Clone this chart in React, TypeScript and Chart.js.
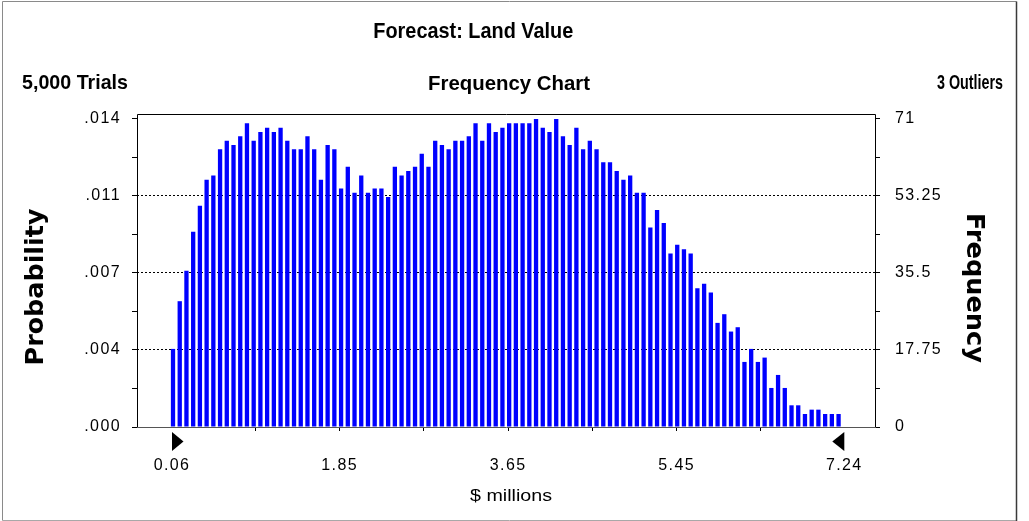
import { useEffect, useRef } from 'react';
import { Chart, registerables } from 'chart.js';

Chart.register(...registerables);

// ---- data ----
const frequencies = [
  18, 29, 36, 45, 51, 57, 58, 64, 66, 65,
  67, 70, 66, 68, 69, 68, 69, 66, 64, 64,
  67, 64, 57, 65, 64, 55, 60, 54, 58, 54,
  55, 55, 53, 60, 58, 59, 60, 63, 60, 66,
  65, 64, 66, 66, 67, 70, 66, 70, 68, 69,
  70, 70, 70, 70, 71, 69, 68, 71, 67, 65,
  69, 64, 66, 64, 61, 61, 59, 57, 58, 54,
  54, 46, 50, 47, 40, 42, 41, 40, 32, 33,
  31, 24, 26, 22, 23, 15, 18, 15, 16, 9,
  12, 9, 5, 5, 3, 4, 4, 3, 3, 3,
];
const rangeMin = 0.06;
const rangeMax = 7.24;
const xMajorTicks = [0.06, 1.85, 3.65, 5.45, 7.24];
const xMajorLabels = ['0.06', '1.85', '3.65', '5.45', '7.24'];
const xMinorTicks = [0.95, 2.75, 4.55, 6.35];
const freqMajorTicks = [0, 17.75, 35.5, 53.25, 71];
const freqLabels = ['0', '17.75', '35.5', '53.25', '71'];
const probLabels = ['.000', '.004', '.007', '.011', '.014'];
const freqMinorTicks = [8.875, 26.625, 44.375, 62.125];
const gridValues = [17.75, 35.5, 53.25];
const titleText = 'Forecast: Land Value';
const trialsText = '5,000 Trials';
const chartKindText = 'Frequency Chart';
const outliersText = '3 Outliers';
const xTitle = '$ millions';
const leftTitle = 'Probability';
const rightTitle = 'Frequency';

const binWidth = (rangeMax - rangeMin) / frequencies.length;
const barPoints = frequencies.map((f, i) => ({ x: rangeMin + (i + 0.15) * binWidth, y: f }));

const TICK_FONT = { family: "'Liberation Sans', Arial, sans-serif", size: 16 };

function drawFitted(
  ctx: CanvasRenderingContext2D,
  text: string,
  cx: number,
  cy: number,
  targetW: number,
  font: string,
  rotation = 0,
  baseline: CanvasTextBaseline = 'alphabetic'
) {
  ctx.save();
  ctx.font = font;
  (ctx as any).letterSpacing = '0px';
  const w = ctx.measureText(text).width;
  ctx.translate(cx, cy);
  ctx.rotate(rotation);
  ctx.scale(targetW / w, 1);
  ctx.textAlign = 'center';
  ctx.textBaseline = baseline;
  ctx.fillStyle = '#000';
  ctx.fillText(text, 0, 0);
  ctx.restore();
}

const decorPlugin = {
  id: 'decor',
  beforeDraw(chart: any) {
    (chart.ctx as any).letterSpacing = '1.4px';
  },
  afterDraw(chart: any) {
    const ctx: CanvasRenderingContext2D = chart.ctx;
    (ctx as any).letterSpacing = '0px';
    const { left, right, top, bottom } = chart.chartArea;
    ctx.save();
    // plot frame
    ctx.lineWidth = 1;
    ctx.strokeStyle = '#000';
    ctx.beginPath();
    ctx.moveTo(left + 0.5, bottom);
    ctx.lineTo(left + 0.5, top + 0.5);
    ctx.lineTo(right + 0.5, top + 0.5);
    ctx.lineTo(right + 0.5, bottom);
    ctx.stroke();
    ctx.strokeStyle = '#555';
    ctx.beginPath();
    ctx.moveTo(left, bottom + 0.5);
    ctx.lineTo(right + 1, bottom + 0.5);
    ctx.stroke();

    // outer border
    ctx.strokeStyle = '#8a8a8a';
    ctx.beginPath();
    ctx.moveTo(2.5, 520.5);
    ctx.lineTo(2.5, 1.5);
    ctx.lineTo(1016.5, 1.5);
    ctx.stroke();
    ctx.strokeStyle = '#a8a8a8';
    ctx.beginPath();
    ctx.moveTo(2.5, 520.5);
    ctx.lineTo(1016.5, 520.5);
    ctx.stroke();
    ctx.strokeStyle = '#3a3a3a';
    ctx.lineWidth = 1.5;
    ctx.beginPath();
    ctx.moveTo(1016.5, 1.5);
    ctx.lineTo(1016.5, 521);
    ctx.stroke();

    // range markers
    const xs = chart.scales.x;
    const pL = xs.getPixelForValue(rangeMin);
    const pR = xs.getPixelForValue(rangeMax);
    ctx.fillStyle = '#000';
    ctx.beginPath();
    ctx.moveTo(pL, 432);
    ctx.lineTo(pL, 451);
    ctx.lineTo(pL + 11.5, 441.5);
    ctx.closePath();
    ctx.fill();
    ctx.beginPath();
    ctx.moveTo(pR, 432);
    ctx.lineTo(pR, 451);
    ctx.lineTo(pR - 12, 441.5);
    ctx.closePath();
    ctx.fill();
    ctx.restore();

    const bold21 = "bold 21px 'Liberation Sans', Arial, sans-serif";
    drawFitted(ctx, titleText, 473.3, 38, 200, "bold 22px 'Liberation Sans', Arial, sans-serif");
    drawFitted(ctx, trialsText, 75, 89, 106, bold21);
    drawFitted(ctx, chartKindText, 509, 89.5, 162, bold21);
    drawFitted(ctx, outliersText, 970, 89, 66, bold21);
    drawFitted(ctx, xTitle, 511, 497, 82, "16px 'Liberation Sans', Arial, sans-serif", 0, 'middle');
    drawFitted(ctx, leftTitle, 37, 287, 157, "bold 24px 'DejaVu Sans', sans-serif", -Math.PI / 2, 'middle');
    drawFitted(ctx, rightTitle, 973, 288, 150, "bold 24px 'DejaVu Sans', sans-serif", Math.PI / 2, 'middle');
  },
};

const allFreqTicks = [...freqMajorTicks, ...freqMinorTicks].sort((a, b) => a - b);
const allXTicks = [...xMajorTicks, ...xMinorTicks].sort((a, b) => a - b);

export default function App() {
  const ref = useRef<HTMLCanvasElement>(null);
  useEffect(() => {
    document.body.style.margin = '0';
    const chart = new Chart(ref.current!, {
      type: 'bar',
      data: {
        datasets: [
          {
            data: barPoints as any,
            backgroundColor: '#0000ff',
            borderWidth: 0,
            barPercentage: 0.64,
            categoryPercentage: 1,
            xAxisID: 'x',
            yAxisID: 'y',
          },
        ],
      },
      options: {
        responsive: false,
        animation: false,
        events: [],
        layout: { padding: { top: 114, bottom: 0, left: 0, right: 0 } },
        plugins: { legend: { display: false }, tooltip: { enabled: false }, title: { display: false } },
        scales: {
          x: {
            type: 'linear',
            position: 'bottom',
            min: -0.3138,
            max: 7.568,
            bounds: 'data',
            offset: false,
            afterBuildTicks: (s: any) => {
              s.ticks = allXTicks.map((v) => ({ value: v }));
            },
            afterFit: (s: any) => {
              s.height = 94;
            },
            ticks: {
              autoSkip: false,
              maxRotation: 0,
              padding: 25,
              color: '#000',
              font: TICK_FONT,
              callback: (v: any) => {
                const i = xMajorTicks.indexOf(v);
                return i >= 0 ? xMajorLabels[i] : '';
              },
            },
            grid: {
              offset: false,
              drawOnChartArea: false,
              tickLength: 4,
              tickColor: (c: any) =>
                c.tick && (c.tick.value === rangeMin || c.tick.value === rangeMax) ? 'rgba(0,0,0,0)' : '#000',
            },
            border: { display: false },
          },
          y: {
            type: 'linear',
            position: 'right',
            min: 0,
            max: 72.15,
            bounds: 'data',
            z: 1,
            afterBuildTicks: (s: any) => {
              s.ticks = allFreqTicks.map((v) => ({ value: v }));
            },
            afterFit: (s: any) => {
              s.width = 154;
            },
            ticks: {
              autoSkip: false,
              padding: 15,
              color: '#000',
              font: TICK_FONT,
              callback: (v: any) => {
                const i = freqMajorTicks.indexOf(v);
                return i >= 0 ? freqLabels[i] : '';
              },
            },
            grid: {
              color: (c: any) =>
                c.tick && gridValues.includes(c.tick.value) ? '#000' : 'rgba(0,0,0,0)',
              tickBorderDash: [],
              tickColor: '#000',
              tickLength: 5,
              lineWidth: 1,
            },
            border: { display: false, dash: [2, 2] },
          },
          y1: {
            type: 'linear',
            position: 'left',
            min: 0,
            max: 72.15,
            bounds: 'data',
            afterBuildTicks: (s: any) => {
              s.ticks = allFreqTicks.map((v) => ({ value: v }));
            },
            afterFit: (s: any) => {
              s.width = 137;
            },
            ticks: {
              autoSkip: false,
              padding: 11,
              color: '#000',
              font: TICK_FONT,
              callback: (v: any) => {
                const i = freqMajorTicks.indexOf(v);
                return i >= 0 ? probLabels[i] : '';
              },
            },
            grid: {
              drawOnChartArea: false,
              tickColor: '#000',
              tickLength: 5,
            },
            border: { display: false },
          },
        },
      } as any,
      plugins: [decorPlugin],
    });
    return () => chart.destroy();
  }, []);
  return (
    <div style={{ position: 'fixed', left: 0, top: 0, width: 1029, height: 521, background: '#fff' }}>
      <canvas ref={ref} width={1029} height={521} style={{ display: 'block', width: 1029, height: 521 }} />
    </div>
  );
}
